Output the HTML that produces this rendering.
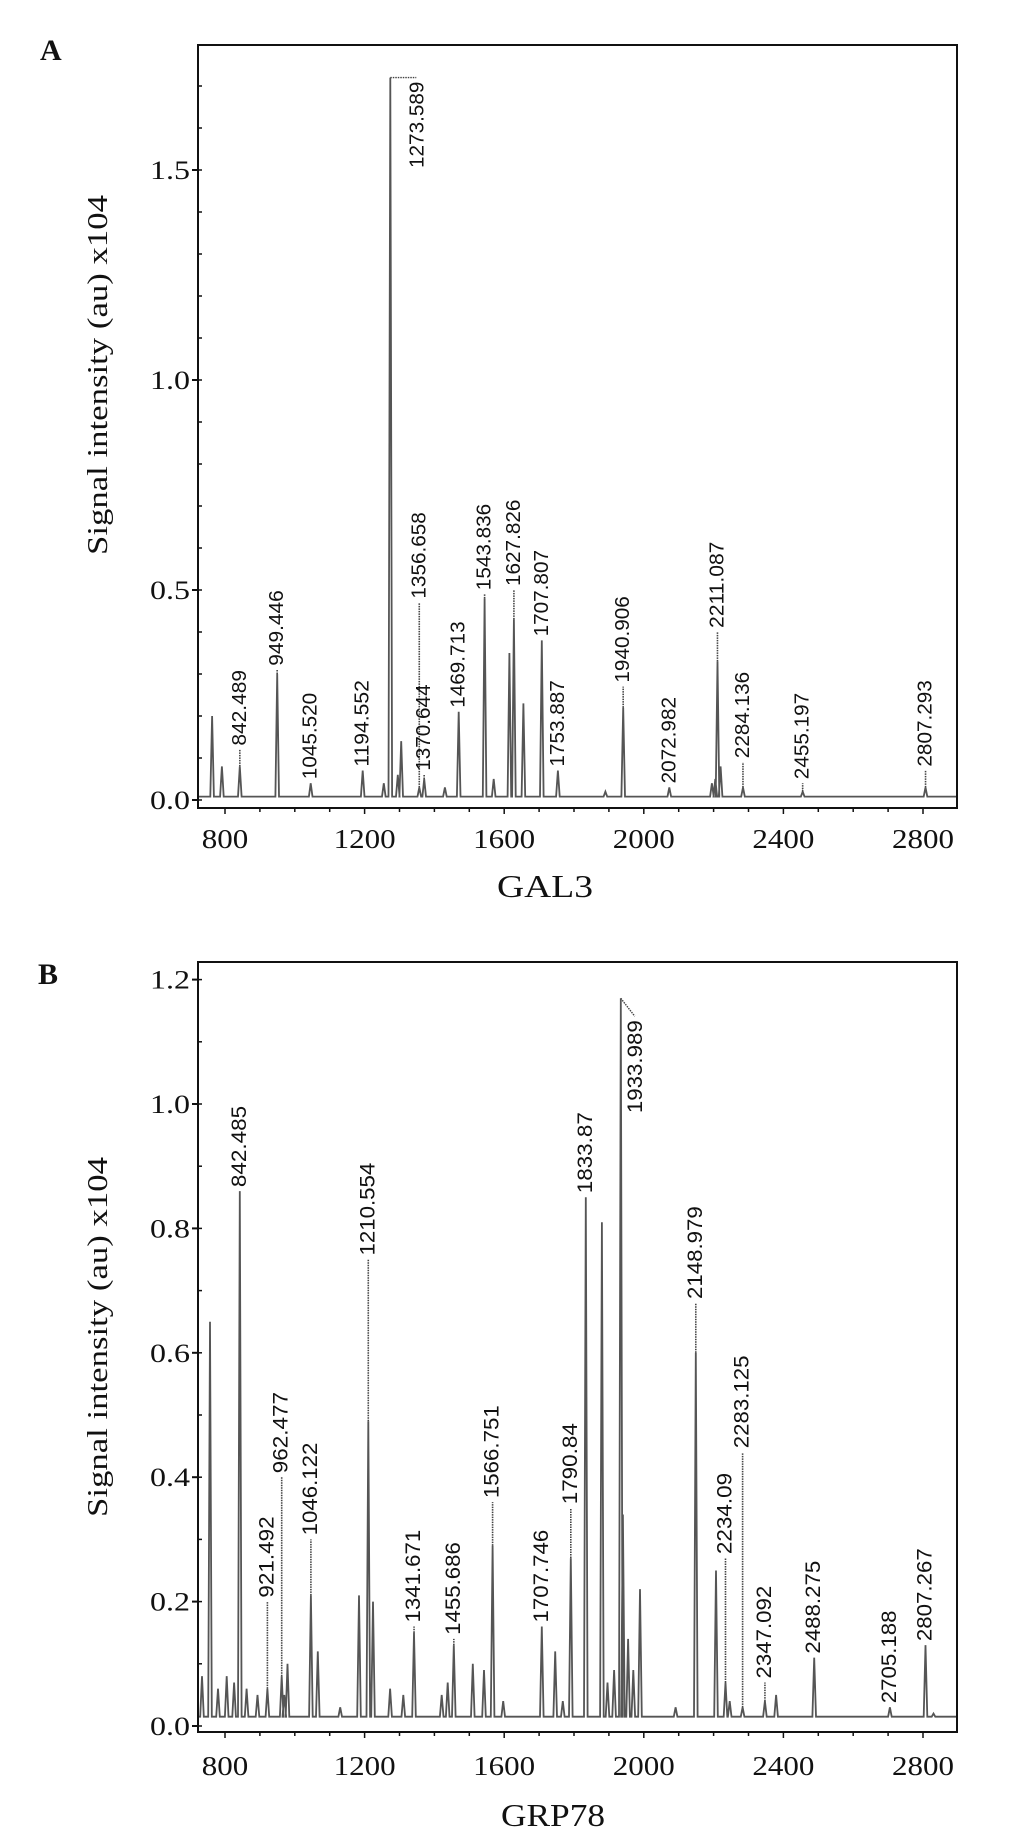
<!DOCTYPE html>
<html><head><meta charset="utf-8"><style>
html,body{margin:0;padding:0;background:#fff;}
svg{display:block;}
</style></head><body>
<svg id="chart" width="1033" height="1837" viewBox="0 0 1033 1837" xmlns="http://www.w3.org/2000/svg">
<rect width="1033" height="1837" fill="#fff"/>
<g id="panelA"></g>
<g id="panelB"></g>
</svg>
<script>
// ---- Panel A data (GAL3) ----
const peaksA_m = [763,791,842.489,949.446,1045.52,1194.552,1255,1273.589,1295,1305,1356.658,1370.644,1430,1469.713,1543.836,1570,1615,1627.826,1655,1707.807,1753.887,1890,1940.906,2072.982,2195,2205,2211.087,2220,2284.136,2455.197,2807.293];
const peaksA_v = [0.20,0.08,0.08,0.30,0.04,0.07,0.04,1.72,0.06,0.14,0.03,0.05,0.03,0.21,0.48,0.05,0.35,0.43,0.23,0.38,0.07,0.02,0.22,0.03,0.04,0.05,0.33,0.08,0.03,0.02,0.03];
const labelsA_m = [842.489,949.446,1045.52,1194.552,1273.589,1356.658,1370.644,1469.713,1543.836,1627.826,1707.807,1753.887,1940.906,2072.982,2211.087,2284.136,2455.197,2807.293];
const labelsA_text = ["842.489","949.446","1045.520","1194.552","1273.589","1356.658","1370.644","1469.713","1543.836","1627.826","1707.807","1753.887","1940.906","2072.982","2211.087","2284.136","2455.197","2807.293"];
const labelsA_top = [0.12,0.31,0.04,0.07,1.72,0.47,0.06,0.21,0.49,0.50,0.38,0.07,0.27,0.03,0.40,0.09,0.04,0.07];
const ticksA_y = [0.0,0.5,1.0,1.5];
const ticksA_ylab = ["0.0","0.5","1.0","1.5"];
// ---- Panel B data (GRP78) ----
const peaksB_m = [734,757,780,805,826,842.485,862,893,921.492,962.477,970,979,1046.122,1066,1130,1184,1210.554,1224,1273,1311,1341.671,1421,1438,1455.686,1510,1542,1566.751,1597,1707.746,1746,1768,1790.84,1833.87,1880,1896,1915,1933.989,1940,1955,1970,1989,2091,2148.979,2207,2234.09,2246,2283.125,2347.092,2379,2488.275,2705.188,2807.267,2830];
const peaksB_v = [0.08,0.65,0.06,0.08,0.07,0.86,0.06,0.05,0.06,0.08,0.05,0.10,0.21,0.12,0.03,0.21,0.49,0.20,0.06,0.05,0.15,0.05,0.07,0.13,0.10,0.09,0.29,0.04,0.16,0.12,0.04,0.27,0.85,0.81,0.07,0.09,1.17,0.34,0.14,0.09,0.22,0.03,0.60,0.25,0.07,0.04,0.03,0.04,0.05,0.11,0.03,0.13,0.02];
const labelsB_m = [842.485,921.492,962.477,1046.122,1210.554,1341.671,1455.686,1566.751,1707.746,1790.84,1833.87,1933.989,2148.979,2234.09,2283.125,2347.092,2488.275,2705.188,2807.267];
const labelsB_text = ["842.485","921.492","962.477","1046.122","1210.554","1341.671","1455.686","1566.751","1707.746","1790.84","1833.87","1933.989","2148.979","2234.09","2283.125","2347.092","2488.275","2705.188","2807.267"];
const labelsB_top = [0.86,0.20,0.40,0.30,0.75,0.16,0.14,0.36,0.16,0.35,0.85,1.17,0.68,0.27,0.44,0.07,0.11,0.03,0.13];
const ticksB_y = [0.0,0.2,0.4,0.6,0.8,1.0,1.2];
const ticksB_ylab = ["0.0","0.2","0.4","0.6","0.8","1.0","1.2"];
// ---- shared x axis ----
const ticksX = [800,1200,1600,2000,2400,2800];
const ticksX_lab = ["800","1200","1600","2000","2400","2800"];

const NS="http://www.w3.org/2000/svg";
const X0=198, X1=957;
function xS(m){return 225+(m-800)*0.349;}
function mk(parent,tag,attrs,text){const e=document.createElementNS(NS,tag);for(const k in attrs)e.setAttribute(k,attrs[k]);if(text!==undefined)e.textContent=text;parent.appendChild(e);return e;}

function drawPanel(g, cfg){
  const yS=v=>cfg.y0 - v*cfg.k;
  const fr=mk(g,'rect',{x:X0,y:cfg.top,width:X1-X0,height:cfg.bottom-cfg.top,fill:'none',stroke:'#111','stroke-width':2});
  
  
  const base=cfg.base;
  const idx=cfg.pm.map((m,i)=>i).sort((a,b)=>cfg.pm[a]-cfg.pm[b]);
  let d='M'+(X0+1)+','+yS(base).toFixed(1);
  idx.forEach(i=>{const x=xS(cfg.pm[i]);const v=cfg.pv[i];
    d+=' L'+(x-1.8).toFixed(1)+','+yS(base).toFixed(1)+' L'+x.toFixed(1)+','+yS(v).toFixed(1)+' L'+(x+1.8).toFixed(1)+','+yS(base).toFixed(1);});
  d+=' L'+(X1-1)+','+yS(base).toFixed(1);
  const sp=mk(g,'path',{d:d,fill:'none',stroke:'#555','stroke-width':1.8});
  
  
  cfg.lm.forEach((m,i)=>{
    const x=xS(m);const vt=cfg.lt[i];
    let pv=0;cfg.pm.forEach((pm,j)=>{if(Math.abs(pm-m)<0.5)pv=Math.max(pv,cfg.pv[j]);});
    const yTop=yS(vt), yPk=yS(Math.min(pv,vt));
    if(yPk-yTop>1){const c=mk(g,'line',{x1:x,y1:yPk,x2:x,y2:yTop,stroke:'#444','stroke-width':1.6,'stroke-dasharray':'1.5,1'});
      
      }
    let tx=x+6, ty=yTop-4, anchor='start';
    if(cfg.special && cfg.special[cfg.lx[i]]){const s=cfg.special[cfg.lx[i]];
      const c2=mk(g,'line',{x1:x,y1:yTop,x2:x+s.dx,y2:yTop+s.dy,stroke:'#444','stroke-width':1.4,'stroke-dasharray':'1.5,1'});
      
      
      tx=x+s.dx+7; ty=yTop+s.dy+4; anchor='end';}
    const t=mk(g,'text',{x:0,y:0,transform:'translate('+tx.toFixed(1)+','+ty.toFixed(1)+') rotate(-90)','text-anchor':anchor,'font-family':'Liberation Sans, sans-serif','font-size':cfg.lfs,fill:'#111',textLength:cfg.lx[i].length*cfg.cw,lengthAdjust:'spacingAndGlyphs'},cfg.lx[i]);
    
    
  });
  for(let v=0;v<=cfg.ymax+1e-9;v+=0.1){const y=yS(v);
    const tk=mk(g,'line',{x1:X0,y1:y,x2:X0+4,y2:y,stroke:'#111','stroke-width':1.5});
    
    }
  cfg.yt.forEach((v,i)=>{const y=yS(v);
    const tk=mk(g,'line',{x1:X0-6,y1:y,x2:X0,y2:y,stroke:'#111','stroke-width':2});
    
    
    const t=mk(g,'text',{x:190,y:y+9,'text-anchor':'end','font-family':'Liberation Serif, serif','font-size':26,fill:'#111',textLength:40,lengthAdjust:'spacingAndGlyphs'},cfg.ytl[i]);
    
    });
  for(let m=800;m<=2800;m+=100){const x=xS(m);
    const tk=mk(g,'line',{x1:x,y1:cfg.bottom,x2:x,y2:cfg.bottom+(m%400===0?6:4),stroke:'#111','stroke-width':1.5});
    
    }
  ticksX.forEach((m,i)=>{const s=ticksX_lab[i];
    const t=mk(g,'text',{x:xS(m),y:cfg.xly,'text-anchor':'middle','font-family':'Liberation Serif, serif','font-size':27,fill:'#111',textLength:s.length*15.5,lengthAdjust:'spacingAndGlyphs'},s);
    
    });
  const xt=mk(g,'text',{x:cfg.xtx,y:cfg.xty,'text-anchor':'middle','font-family':'Liberation Serif, serif','font-size':32,fill:'#111',textLength:cfg.xtw,lengthAdjust:'spacingAndGlyphs'},cfg.xtitle);
  
  
  const yt=mk(g,'text',{x:0,y:0,transform:'translate(107,'+cfg.ytc+') rotate(-90)','text-anchor':'middle','font-family':'Liberation Serif, serif','font-size':28,fill:'#111',textLength:360,lengthAdjust:'spacingAndGlyphs'},'Signal intensity (au) x104');
  
  
  const pl=mk(g,'text',{x:cfg.plx,y:cfg.ply,'font-family':'Liberation Serif, serif','font-weight':'bold','font-size':30,fill:'#111'},cfg.plabel);
  
  
}

drawPanel(document.getElementById('panelA'),{top:45,bottom:808,y0:800,k:420,ymax:1.7,base:0.008,
  pm:peaksA_m,pv:peaksA_v,lm:labelsA_m,lx:labelsA_text,lt:labelsA_top,lfs:20,cw:10.8,
  yt:ticksA_y,ytl:ticksA_ylab,xly:848,xtitle:'GAL3',xtx:545,xty:897,xtw:96,ytc:375,plabel:'A',plx:40,ply:60,
  special:{'1273.589':{dx:26,dy:0}}});
drawPanel(document.getElementById('panelB'),{top:962,bottom:1732,y0:1726,k:622,ymax:1.2,base:0.015,
  pm:peaksB_m,pv:peaksB_v,lm:labelsB_m,lx:labelsB_text,lt:labelsB_top,lfs:21,cw:11.6,
  yt:ticksB_y,ytl:ticksB_ylab,xly:1775,xtitle:'GRP78',xtx:553,xty:1826,xtw:104,ytc:1337,plabel:'B',plx:38,ply:984,
  special:{'1933.989':{dx:14,dy:18}}});
</script>
</body></html>
